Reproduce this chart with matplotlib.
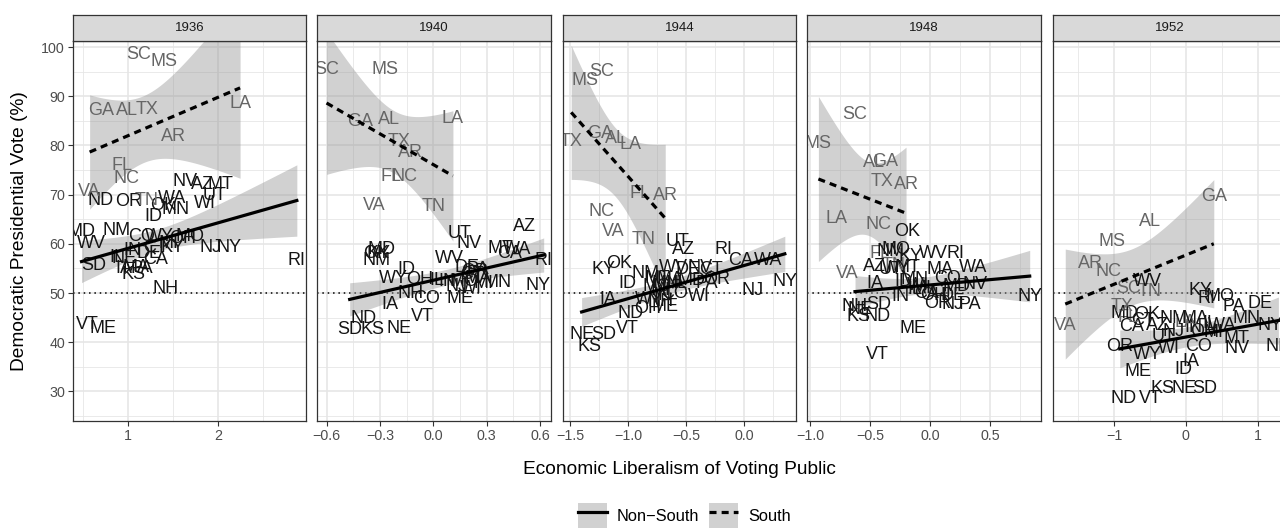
import numpy as np
import matplotlib
matplotlib.use("Agg")
import matplotlib.pyplot as plt
from matplotlib.lines import Line2D
from matplotlib.patches import Patch
from matplotlib.legend_handler import HandlerTuple

plt.rcParams['font.family'] = ['Liberation Sans', 'DejaVu Sans']

years = ['1936', '1940', '1944', '1948', '1952']
south = ['AL', 'AR', 'FL', 'GA', 'LA', 'MS', 'NC', 'SC', 'TN', 'TX', 'VA']

states = ['AL', 'AR', 'AZ', 'CA', 'CO', 'CT', 'DE', 'FL', 'GA', 'IA', 'ID', 'IL',
          'IN', 'KS', 'KY', 'LA', 'MA', 'MD', 'ME', 'MI', 'MN', 'MO', 'MS', 'MT',
          'NC', 'ND', 'NE', 'NH', 'NJ', 'NM', 'NV', 'NY', 'OH', 'OK', 'OR', 'PA',
          'RI', 'SC', 'SD', 'TN', 'TX', 'UT', 'VA', 'VT', 'WA', 'WI', 'WV', 'WY']

econ_1936 = [0.98, 1.50, 1.82, 1.30, 1.15, 1.30, 1.23, 0.93, 0.70, 0.95, 1.28, 0.87,
             1.04, 1.06, 1.49, 2.24, 1.08, 0.48, 0.72, 1.45, 1.52, 1.68, 1.39, 2.02,
             0.98, 0.69, 0.95, 1.41, 1.91, 0.87, 1.63, 2.12, 1.60, 1.39, 1.00, 1.15,
             2.87, 1.11, 0.61, 1.20, 1.21, 1.96, 0.57, 0.54, 1.48, 1.85, 0.59, 1.35]
vote_1936 = [87.2, 81.9, 72.0, 56.8, 61.5, 59.3, 58.0, 76.0, 87.2, 55.0, 65.5, 57.3,
             58.6, 53.7, 59.2, 88.6, 55.3, 62.5, 42.9, 60.0, 66.9, 61.4, 97.0, 72.0,
             73.2, 68.9, 57.0, 51.0, 59.3, 62.8, 72.6, 59.3, 61.0, 67.9, 68.6, 55.0,
             56.7, 98.4, 55.7, 68.9, 87.4, 69.9, 70.6, 43.6, 69.3, 68.3, 60.1, 61.4]

econ_1940 = [-0.25, -0.13, 0.51, 0.43, -0.04, 0.22, 0.19, -0.24, -0.41, -0.245, -0.15, 0.02,
             0.08, -0.34, -0.31, 0.11, 0.25, -0.29, 0.15, 0.28, 0.36, 0.17, -0.27, 0.375,
             -0.16, -0.39, -0.19, -0.13, 0.13, -0.32, 0.20, 0.59, -0.075, -0.32, 0.23, 0.25,
             0.62, -0.60, -0.47, 0.00, -0.19, 0.15, -0.33, -0.06, 0.47, 0.21, 0.09, -0.225]
vote_1940 = [85.3, 78.5, 63.6, 58.1, 48.8, 53.7, 55.1, 73.7, 84.8, 47.6, 54.7, 52.5,
             52.3, 42.5, 58.0, 85.5, 53.0, 58.8, 48.8, 52.0, 52.1, 52.3, 95.5, 59.1,
             73.7, 44.9, 42.7, 50.0, 51.3, 56.7, 60.1, 51.5, 52.7, 58.1, 54.4, 54.7,
             56.7, 95.5, 42.5, 67.6, 80.8, 62.2, 67.9, 45.2, 58.8, 51.0, 57.1, 53.0]

econ_1944 = [-1.10, -0.68, -0.52, -0.03, -0.60, -0.29, -0.48, -0.90, -1.24, -1.17, -1.01, -0.55,
             -0.70, -1.33, -1.21, -0.98, -0.64, -0.45, -0.68, -0.72, -0.68, -0.75, -1.37, -0.75,
             -1.23, -0.98, -1.40, -0.72, 0.07, -0.85, -0.38, 0.35, -0.83, -1.08, -0.24, -0.32,
             -0.18, -1.23, -1.21, -0.87, -1.49, -0.57, -1.13, -1.01, 0.21, -0.39, -0.61, -0.82]
vote_1944 = [81.5, 69.9, 58.8, 56.7, 50.0, 54.7, 54.7, 70.3, 82.5, 48.6, 52.0, 52.0,
             49.5, 39.2, 54.7, 80.1, 52.7, 52.5, 47.3, 50.6, 52.0, 51.3, 93.3, 53.0,
             66.6, 45.9, 41.5, 48.3, 50.6, 54.0, 55.1, 52.3, 46.8, 56.1, 52.7, 52.0,
             58.8, 95.0, 41.5, 60.8, 80.8, 60.5, 62.5, 42.9, 56.7, 49.3, 55.1, 48.6]

econ_1948 = [-0.47, -0.20, -0.46, -0.03, 0.15, 0.10, 0.19, -0.42, -0.375, -0.46, -0.22, -0.125,
             -0.25, -0.60, -0.16, -0.78, 0.08, 0.22, -0.14, -0.07, -0.125, -0.28, -0.93, -0.19,
             -0.43, -0.44, -0.58, -0.625, 0.19, -0.33, 0.375, 0.83, 0.03, -0.19, 0.06, 0.33,
             0.21, -0.625, -0.43, -0.30, -0.40, -0.33, -0.69, -0.44, 0.36, -0.10, 0.03, -0.28]
vote_1948 = [76.5, 72.0, 55.4, 50.0, 53.0, 50.3, 49.6, 58.0, 76.7, 52.0, 52.3, 50.7,
             49.3, 45.2, 57.5, 65.2, 54.7, 51.3, 42.9, 51.0, 52.7, 58.8, 80.5, 55.1,
             63.9, 45.2, 46.6, 47.3, 47.6, 58.5, 51.7, 49.3, 49.6, 62.5, 47.9, 47.6,
             58.1, 86.2, 47.6, 55.7, 72.6, 54.7, 53.9, 37.5, 55.1, 51.5, 58.1, 55.0]

econ_1952 = [-0.50, -1.33, -0.40, -0.75, 0.18, -0.60, 1.04, -0.80, 0.39, 0.07, -0.03, 0.34,
             0.10, -0.33, 0.20, 0.00, 0.13, -0.85, -0.66, 0.39, 0.85, 0.48, -1.03, 0.71,
             -1.08, -0.87, -0.03, 1.29, -0.17, -0.17, 0.71, 1.18, 0.25, -0.54, -0.92, 0.665,
             0.29, -0.80, 0.27, -0.50, -0.89, -0.31, -1.68, -0.50, 0.50, -0.24, -0.54, -0.54]
vote_1952 = [64.5, 56.1, 43.5, 43.2, 39.2, 44.5, 47.9, 45.0, 69.6, 36.0, 34.4, 43.9,
             43.0, 30.7, 50.6, 44.0, 44.9, 45.9, 34.1, 41.9, 44.9, 49.3, 60.5, 40.8,
             54.4, 28.6, 30.7, 39.2, 42.2, 44.9, 38.8, 43.5, 42.2, 45.6, 39.2, 47.3,
             49.0, 51.0, 30.7, 50.3, 47.3, 41.2, 43.5, 28.6, 43.5, 38.8, 52.3, 37.5]

econ = [econ_1936, econ_1940, econ_1944, econ_1948, econ_1952]
vote = [vote_1936, vote_1940, vote_1944, vote_1948, vote_1952]

x_ticks = [[1, 2], [-0.6, -0.3, 0.0, 0.3, 0.6], [-1.5, -1.0, -0.5, 0.0],
           [-1.0, -0.5, 0.0, 0.5], [-1, 0, 1]]
x_tick_labels = [['1', '2'], ['−0.6', '−0.3', '0.0', '0.3', '0.6'],
                 ['−1.5', '−1.0', '−0.5', '0.0'], ['−1.0', '−0.5', '0.0', '0.5'],
                 ['−1', '0', '1']]
x_minor = [[0.5, 1.5, 2.5], [-0.45, -0.15, 0.15, 0.45], [-1.25, -0.75, -0.25, 0.25],
           [-0.75, -0.25, 0.25, 0.75], [-1.5, -0.5, 0.5]]
x_lims = [(0.382, 2.974), (-0.652, 0.660), (-1.563, 0.448), (-1.0225, 0.9225), (-1.855, 1.399)]
y_ticks = [30, 40, 50, 60, 70, 80, 90, 100]
y_minor = [25, 35, 45, 55, 65, 75, 85, 95]
y_lim = (24.0, 101.3)


def t975(df):
    # Cornish-Fisher expansion for the 97.5% Student t quantile
    z = 1.959964
    return (z + (z**3 + z) / (4 * df) + (5 * z**5 + 16 * z**3 + 3 * z) / (96 * df**2)
            + (3 * z**7 + 19 * z**5 + 17 * z**3 - 15 * z) / (384 * df**3))


def lm_band(x, y, n_pts=80):
    x = np.asarray(x)
    y = np.asarray(y)
    n = len(x)
    slope, icpt = np.polyfit(x, y, 1)
    resid = y - (icpt + slope * x)
    s = np.sqrt(np.sum(resid**2) / (n - 2))
    sxx = np.sum((x - x.mean())**2)
    xs = np.linspace(x.min(), x.max(), n_pts)
    fit = icpt + slope * xs
    se = s * np.sqrt(1.0 / n + (xs - x.mean())**2 / sxx)
    tq = t975(n - 2)
    return xs, fit, fit - tq * se, fit + tq * se


W, H = 1280, 528
fig = plt.figure(figsize=(W / 100, H / 100), dpi=100)

lefts = [72.7, 317.3, 562.7, 807.3, 1052.7]
pw = 233.5
ptop, pbot = 40.7, 421.0
stop = 15.0

band_col = '#999999'
col_south = '#666666'
col_north = '#151515'
grid_col = '#e6e6e6'
frame_col = '#333333'
dash = (0, (2.2, 1.6))

for i, yr in enumerate(years):
    ax = fig.add_axes([lefts[i] / W, 1 - pbot / H, pw / W, (pbot - ptop) / H])
    ax.set_xlim(*x_lims[i])
    ax.set_ylim(*y_lim)

    for v in x_minor[i]:
        ax.axvline(v, color=grid_col, lw=0.6, zorder=0)
    for v in y_minor:
        ax.axhline(v, color=grid_col, lw=0.6, zorder=0)
    for v in x_ticks[i]:
        ax.axvline(v, color=grid_col, lw=1.2, zorder=0)
    for v in y_ticks:
        ax.axhline(v, color=grid_col, lw=1.2, zorder=0)

    ax.axhline(50, color='black', lw=1.1, ls=(0, (1, 2.5)), zorder=1)

    xs_all = np.array(econ[i])
    ys_all = np.array(vote[i])
    is_south = np.array([s in south for s in states])

    for mask, ls in [(~is_south, '-'), (is_south, dash)]:
        xs, fit, lo, hi = lm_band(xs_all[mask], ys_all[mask])
        ax.fill_between(xs, lo, hi, color=band_col, alpha=0.45, lw=0, zorder=1.5)
        ax.plot(xs, fit, color='black', lw=2.3, ls=ls, zorder=3)

    for st, xv, yv, sth in zip(states, xs_all, ys_all, is_south):
        ax.text(xv, yv, st, ha='center', va='center', fontsize=13,
                color=col_south if sth else col_north, zorder=2, clip_on=True)

    ax.set_xticks(x_ticks[i])
    ax.set_xticklabels(x_tick_labels[i])
    ax.tick_params(axis='x', length=3.5, width=0.8, color=frame_col,
                   labelsize=10.3, labelcolor='#4d4d4d', pad=2)
    if i == 0:
        ax.set_yticks(y_ticks)
        ax.tick_params(axis='y', length=3.5, width=0.8, color=frame_col,
                       labelsize=10.3, labelcolor='#4d4d4d', pad=2)
    else:
        ax.set_yticks([])
    for sp in ax.spines.values():
        sp.set_color(frame_col)
        sp.set_linewidth(0.9)

    sax = fig.add_axes([lefts[i] / W, 1 - ptop / H, pw / W, (ptop - stop) / H])
    sax.set_facecolor('#d9d9d9')
    sax.set_xticks([])
    sax.set_yticks([])
    for sp in sax.spines.values():
        sp.set_color(frame_col)
        sp.set_linewidth(0.9)
    sax.text(0.5, 0.5, yr, ha='center', va='center', fontsize=9.5,
             color='#1a1a1a', transform=sax.transAxes)

fig.text(20 / W, 1 - 231 / H, 'Democratic Presidential Vote (%)', rotation=90,
         ha='center', va='center', fontsize=13.8, color='black')
fig.text(679 / W, 1 - 470 / H, 'Economic Liberalism of Voting Public',
         ha='center', va='center', fontsize=13.8, color='black')

h_north = (Patch(facecolor=band_col, alpha=0.45, edgecolor='none'),
           Line2D([], [], color='black', lw=2.3))
h_south = (Patch(facecolor=band_col, alpha=0.45, edgecolor='none'),
           Line2D([], [], color='black', lw=2.3, ls=dash))
fig.legend([h_north, h_south], ['Non−South', 'South'],
           handler_map={tuple: HandlerTuple(ndivide=1, pad=0)},
           loc='center', bbox_to_anchor=(684.5 / W, 1 - 516 / H), ncol=2,
           frameon=False, fontsize=11.8, handlelength=1.77, handleheight=2.0,
           columnspacing=0.6, handletextpad=0.6, borderpad=0)

fig.savefig('out.png', dpi=100)
